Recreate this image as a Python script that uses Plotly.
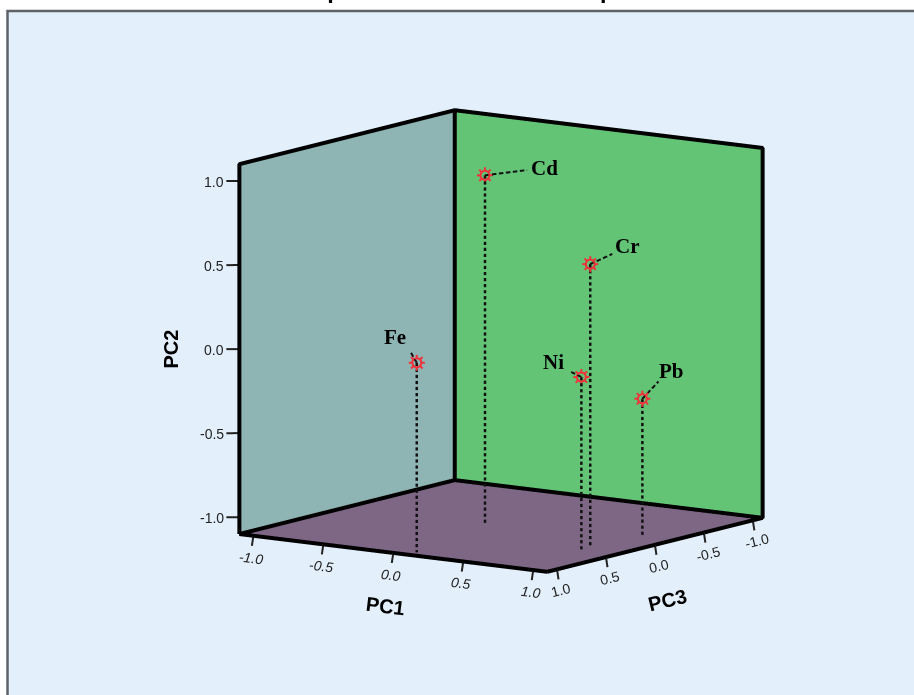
"""Component plot in rotated space, orthographic 3D scatter with drop lines."""
import math

import plotly.graph_objects as go

elements = ["Cd", "Cr", "Ni", "Pb", "Fe"]
pc1 = [-0.095, 0.801, 0.889, 0.863, 0.103]
pc2 = [0.98, 0.573, -0.058, -0.286, 0.028]
pc3 = [0.028, 0.233, 0.450, -0.211, 1.007]
tick_values = [-1.0, -0.5, 0.0, 0.5, 1.0]
tick_labels = ["-1.0", "-0.5", "0.0", "0.5", "1.0"]

LIM = 1.1  # edge of the drawn box
WALL = LIM + 0.012  # walls sit just behind the outline so it stays visible
RANGE = 1.25  # axis range, a bit wider so the ticks are not clipped
EYE_DIST = 2.0
BOX_SCALE = 1.252
PX_X, PX_X_DOWN, PX_Z = 139.5, 17.7, 167.0  # pixels per unit of PC1 (across, down) and PC2
RED = "#F0333A"


def lift(dx, dy):
    """Turn a screen offset in pixels into a (PC1, PC2) offset."""
    d1 = dx / PX_X
    return d1, (d1 * PX_X_DOWN - dy) / PX_Z


def line_trace(xs, ys, zs, color="black", width=8):
    return go.Scatter3d(x=xs, y=ys, z=zs, mode="lines", hoverinfo="skip", showlegend=False,
                        line=dict(color=color, width=width))


def dashes(start, end, length_px, on_px, off_px):
    """Split a straight line into solid dash pieces, returned as x, y, z lists with gaps."""
    xs, ys, zs = [], [], []
    pos = 0.0
    while pos < length_px:
        t0, t1 = pos / length_px, min(pos + on_px, length_px) / length_px
        for coords, a, b in zip((xs, ys, zs), start, end):
            coords += [a + (b - a) * t0, a + (b - a) * t1, None]
        pos += on_px + off_px
    return xs, ys, zs


def wall(xs, ys, zs, color):
    return go.Mesh3d(x=xs, y=ys, z=zs, i=[0, 0], j=[1, 2], k=[2, 3], color=color, hoverinfo="skip",
                     flatshading=True, lighting=dict(ambient=1, diffuse=0, specular=0, fresnel=0))


fig = go.Figure()

# walls (scene y holds PC3, scene z holds PC2)
fig.add_trace(wall([-WALL] * 4, [LIM, -LIM, -LIM, LIM], [-LIM, -LIM, LIM, LIM], "#8FB4B4"))
fig.add_trace(wall([-LIM, LIM, LIM, -LIM], [-WALL] * 4, [-LIM, -LIM, LIM, LIM], "#63C476"))
fig.add_trace(wall([-LIM, LIM, LIM, -LIM], [-LIM, -LIM, LIM, LIM], [-WALL] * 4, "#7E6685"))

# box outline
fig.add_trace(line_trace([-LIM, -LIM, -LIM, LIM, LIM, -LIM, LIM, LIM, None, -LIM, -LIM],
                         [LIM, LIM, -LIM, -LIM, -LIM, -LIM, -LIM, LIM, None, -LIM, -LIM],
                         [-LIM, LIM, LIM, LIM, -LIM, -LIM, -LIM, -LIM, None, LIM, -LIM]))
fig.add_trace(line_trace([LIM, -LIM, -LIM], [LIM, LIM, -LIM], [-LIM, -LIM, -LIM]))

# tick marks
tx, ty, tz = [], [], []
for v in tick_values:
    d1, d2 = lift(-1.5, 10)
    tx += [v, v + d1, None]
    ty += [LIM, LIM, None]
    tz += [-LIM, -LIM + d2, None]
    d1, d2 = lift(1.5, 10)
    tx += [LIM, LIM + d1, None]
    ty += [v, v, None]
    tz += [-LIM, -LIM + d2, None]
    d1, d2 = lift(-13, 0)
    tx += [-LIM, -LIM + d1, None]
    ty += [LIM, LIM, None]
    tz += [v, v + d2, None]
fig.add_trace(line_trace(tx, ty, tz, color="#222222", width=4))

# drop lines
for x, y, z in zip(pc1, pc2, pc3):
    dx_, dy_, dz_ = dashes((x, z, y), (x, z, -LIM), (y + LIM) * PX_Z, 3.2, 2.8)
    fig.add_trace(line_trace(dx_, dy_, dz_, color="#111111", width=5))

# leader lines, from the point out towards its label
leader_ends = [(42, -5), (22, -10), (-10, -5), (16, -17), (-7, -12)]
for x, y, z, (dx, dy) in zip(pc1, pc2, pc3, leader_ends):
    d1, d2 = lift(dx, dy)
    lx, ly, lz = dashes((x, z, y), (x + d1, z, y + d2), math.hypot(dx, dy), 4.5, 2.5)
    fig.add_trace(line_trace(lx, ly, lz, color="#111111", width=4))

# star markers: rays around an open ring
rx, ry, rz = [], [], []
for x, y, z in zip(pc1, pc2, pc3):
    for k in range(8):
        a = k * math.pi / 4
        d1a, d2a = lift(4.5 * math.cos(a), 4.5 * math.sin(a))
        d1b, d2b = lift(8 * math.cos(a), 8 * math.sin(a))
        rx += [x + d1a, x + d1b, None]
        ry += [z, z, None]
        rz += [y + d2a, y + d2b, None]
    for k in range(17):
        a = k * math.pi / 8
        d1a, d2a = lift(4.5 * math.cos(a), 4.5 * math.sin(a))
        rx.append(x + d1a)
        ry.append(z)
        rz.append(y + d2a)
    rx.append(None)
    ry.append(None)
    rz.append(None)
fig.add_trace(line_trace(rx, ry, rz, color=RED, width=4))
fig.add_trace(go.Scatter3d(x=pc1, y=pc3, z=pc2, mode="markers", text=elements, showlegend=False,
                           marker=dict(symbol="circle-open", size=1, color=RED)))

axis_common = dict(range=[-RANGE, RANGE], showgrid=False, zeroline=False, showticklabels=False,
                   showspikes=False, ticks="", title=dict(text=""), showbackground=False,
                   showline=False, visible=False)

annotations = []
tick_font = dict(family="Liberation Sans", size=14, color="#222222")
for v, label in zip(tick_values, tick_labels):
    annotations.append(dict(x=v, y=LIM, z=-LIM, text=label, showarrow=False, xshift=-2, yshift=-22,
                            textangle=7, font=dict(tick_font, style="italic")))
    annotations.append(dict(x=LIM, y=v, z=-LIM, text=label, showarrow=False, xshift=4, yshift=-21,
                            textangle=-14, font=tick_font))
    annotations.append(dict(x=-LIM, y=LIM, z=v, text=label, showarrow=False, xanchor="right",
                            xshift=-13, yshift=-1, font=tick_font))

title_font = dict(family="Liberation Sans", size=20, color="black", weight="bold")
annotations.append(dict(x=0, y=LIM, z=-LIM, text="PC1", showarrow=False, xshift=-8, yshift=-53,
                        textangle=7, font=title_font))
annotations.append(dict(x=LIM, y=0, z=-LIM, text="PC3", showarrow=False, xshift=13, yshift=-55,
                        textangle=-14, font=title_font))
annotations.append(dict(x=-LIM, y=LIM, z=0, text="PC2", showarrow=False, xshift=-68,
                        textangle=-90, font=title_font))

label_font = dict(family="Liberation Serif", size=21, color="black", weight="bold")
label_shifts = [(60, 7), (37, 18), (-28, 15), (29, 28), (-22, 26)]
for name, x, y, z, (dx, dy) in zip(elements, pc1, pc2, pc3, label_shifts):
    annotations.append(dict(x=x, y=z, z=y, text=name, showarrow=False, xshift=dx, yshift=dy,
                            font=label_font))

fig.update_layout(
    width=914, height=695, margin=dict(l=0, r=0, t=0, b=0), paper_bgcolor="white",
    showlegend=False,
    shapes=[dict(type="rect", xref="paper", yref="paper", x0=7.5 / 914, x1=1.01, y0=-0.01, y1=1 - 11 / 695,
                 fillcolor="#E3EFFB", line=dict(color="#5f6368", width=2.5), layer="below")],
    annotations=[dict(xref="paper", yref="paper", x=464 / 914, y=1, yanchor="middle", yshift=10,
                      text="Component Plot in Rotated Space", showarrow=False,
                      font=dict(family="Liberation Sans", size=23.5, color="black", weight="bold"))],
    scene=dict(
        domain=dict(x=[88 / 914, 1], y=[13 / 695, 1]),
        aspectmode="manual",
        aspectratio=dict(x=BOX_SCALE, y=BOX_SCALE, z=BOX_SCALE),
        camera=dict(projection=dict(type="orthographic"), up=dict(x=0, y=0, z=1),
                    center=dict(x=0, y=0, z=0),
                    eye=dict(x=0.5636 * EYE_DIST, y=-0.8055 * EYE_DIST, z=0.175 * EYE_DIST)),
        xaxis=axis_common,
        yaxis=dict(axis_common, range=[RANGE, -RANGE]),
        zaxis=axis_common,
        annotations=annotations,
    ),
)

fig.write_html("out.html", config=dict(displayModeBar=False),
               post_script="document.body.style.margin='0';")
